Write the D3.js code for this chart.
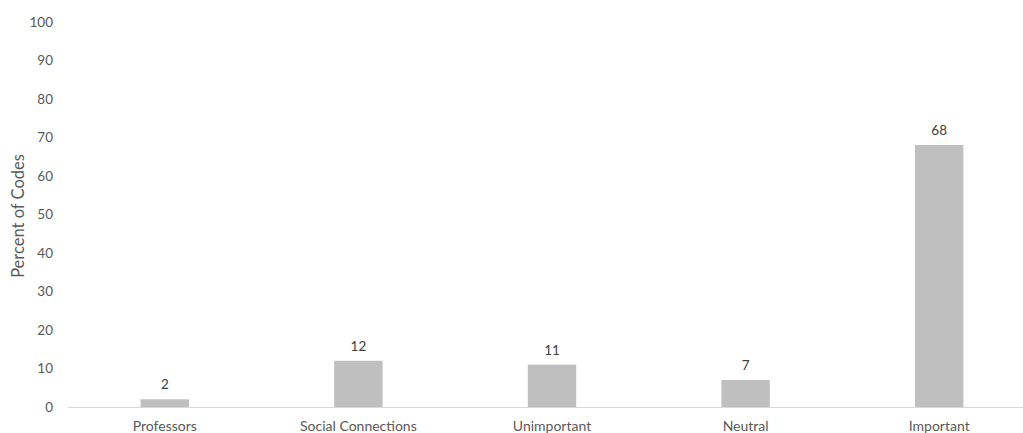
<!DOCTYPE html>
<html>
<head>
<meta charset="utf-8">
<script src="https://cdn.jsdelivr.net/npm/d3@7"></script>
<style>
  html, body { margin: 0; padding: 0; background: #fff; }
  svg { display: block; }
  text { font-family: Lato, "Open Sans", sans-serif; }
</style>
</head>
<body>
<svg id="chart" width="1023" height="433"></svg>
<script>
const categories = ["Professors", "Social Connections", "Unimportant", "Neutral", "Important"];
const percents = [2, 12, 11, 7, 68];
const yTicks = [0, 10, 20, 30, 40, 50, 60, 70, 80, 90, 100];
const yTitle = "Percent of Codes";

const W = 1023, H = 433;
const svg = d3.select("#chart");

const x = d3.scaleBand()
  .domain(categories)
  .range([68, 1036])
  .paddingInner(0.75)
  .paddingOuter(0.375);

const y = d3.scaleLinear().domain([0, 100]).range([407, 21.7]);

// bars
svg.append("g").selectAll("rect")
  .data(categories)
  .join("rect")
  .attr("x", d => x(d))
  .attr("width", x.bandwidth())
  .attr("y", (d, i) => y(percents[i]))
  .attr("height", (d, i) => y(0) - y(percents[i]))
  .attr("fill", "#bfbfbf");

// baseline
svg.append("line")
  .attr("x1", 68).attr("x2", W)
  .attr("y1", y(0) + 0.5).attr("y2", y(0) + 0.5)
  .attr("stroke", "#d9d9d9").attr("stroke-width", 1);

// y axis tick labels
const yAxis = d3.axisLeft(y).tickValues(yTicks).tickSize(0).tickPadding(0);
const gy = svg.append("g").attr("transform", "translate(53,0)").call(yAxis);
gy.select(".domain").remove();
gy.selectAll("text")
  .attr("fill", "#595959")
  .style("font-size", "13.5px")
  .style("font-family", "Lato, 'Open Sans', sans-serif");

// x axis category labels
const xAxis = d3.axisBottom(x).tickSize(0).tickPadding(0);
const gx = svg.append("g").attr("transform", "translate(0,431)").call(xAxis);
gx.select(".domain").remove();
gx.selectAll("text")
  .attr("fill", "#595959")
  .attr("y", 0)
  .attr("dy", "0")
  .style("font-size", "14px")
  .style("font-family", "Lato, 'Open Sans', sans-serif");

// value labels
svg.append("g").selectAll("text")
  .data(categories)
  .join("text")
  .attr("x", d => x(d) + x.bandwidth() / 2)
  .attr("y", (d, i) => y(percents[i]) - 10)
  .attr("text-anchor", "middle")
  .attr("fill", "#404040")
  .style("font-size", "13.5px")
  .text((d, i) => percents[i]);

// y axis title
svg.append("text")
  .attr("transform", "translate(24," + 216 + ") rotate(-90)")
  .attr("text-anchor", "middle")
  .attr("fill", "#595959")
  .style("font-size", "16.5px")
  .text(yTitle);
</script>
</body>
</html>
